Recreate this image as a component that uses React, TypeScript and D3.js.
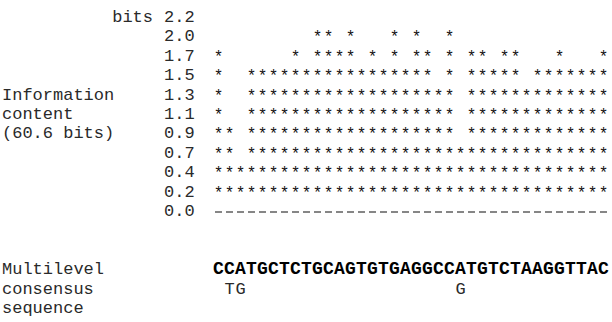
import { useEffect, useRef } from 'react';
import * as d3 from 'd3';

// consensus base at each of the 36 positions
const consensus = 'CCATGCTCTGCAGTGTGAGGCCATGTCTAAGGTTAC'.split('');
// number of asterisk rows stacked at each position (row 1 = 0.2 bits)
const starLevels = [8, 4, 2, 7, 7, 7, 7, 8, 7, 9, 9, 8, 9, 7, 8, 7, 9, 7, 9, 8, 6, 9, 3, 8, 8, 7, 8, 8, 6, 7, 7, 8, 7, 7, 7, 8];
// second-level bases written under the consensus
const secondPositions = [1, 2, 22];
const secondBases = ['T', 'G', 'G'];
// y axis labels, bottom to top
const tickLabels = ['0.0', '0.2', '0.4', '0.7', '0.9', '1.1', '1.3', '1.5', '1.7', '2.0', '2.2'];
const axisTitle = ['Information', 'content', '(60.6 bits)'];
const seqTitle = ['Multilevel', 'consensus', 'sequence'];

export default function App() {
  const svgRef = useRef<SVGSVGElement>(null);

  useEffect(() => {
    const svg = d3.select(svgRef.current);
    svg.selectAll('*').remove();

    const font = '"Liberation Mono", "Courier New", monospace';
    const fs = 17;
    const lineH = 19.4;
    const top = 17;

    const x = d3.scaleBand<number>()
      .domain(d3.range(consensus.length))
      .range([213, 609]);

    const y = d3.scalePoint<string>()
      .domain(tickLabels)
      .range([top + 10 * lineH, top]);

    const lineY = (n: number) => top + n * lineH;
    const base = 5; // shift from row centre to text baseline
    const cx = (i: number) => x(i)! + x.bandwidth() / 2;

    const g = svg.append('g')
      .style('font-family', font)
      .style('font-size', fs + 'px')
      .attr('fill', '#2a2a2a');

    // axis tick labels
    g.selectAll('.tick-label')
      .data(tickLabels)
      .enter()
      .append('text')
      .attr('class', 'tick-label')
      .attr('x', 164)
      .attr('y', d => y(d)! + base)
      .text(d => d);

    g.append('text')
      .attr('x', 153)
      .attr('y', y('2.2')! + base)
      .attr('text-anchor', 'end')
      .text('bits');

    // axis title on rows 1.3 .. 0.9
    g.selectAll('.axis-title')
      .data(axisTitle)
      .enter()
      .append('text')
      .attr('x', 2)
      .attr('y', (d, i) => y(tickLabels[6 - i])! + base)
      .text(d => d);

    // asterisk columns
    const cells = consensus.flatMap((_, i) =>
      d3.range(1, starLevels[i] + 1).map(k => ({ i, row: tickLabels[k] })));

    g.selectAll('.star')
      .data(cells)
      .enter()
      .append('text')
      .attr('class', 'star')
      .attr('x', d => cx(d.i))
      .attr('y', d => y(d.row)! + base + 1)
      .attr('text-anchor', 'middle')
      .style('font-size', '16px')
      .attr('fill', '#111')
      .text('*');

    // baseline dashes
    g.selectAll('.dash')
      .data(consensus)
      .enter()
      .append('line')
      .attr('x1', (d, i) => cx(i) - 3.5)
      .attr('x2', (d, i) => cx(i) + 3.5)
      .attr('y1', y('0.0')! + 1)
      .attr('y2', y('0.0')! + 1)
      .attr('stroke', '#444')
      .attr('stroke-width', 1.3);

    // sequence titles
    g.selectAll('.seq-title')
      .data(seqTitle)
      .enter()
      .append('text')
      .attr('x', 2)
      .attr('y', (d, i) => lineY(13 + i) + base)
      .text(d => d);

    // consensus bases (bold)
    g.selectAll('.cons')
      .data(consensus)
      .enter()
      .append('text')
      .attr('x', (d, i) => cx(i))
      .attr('y', lineY(13) + base)
      .attr('text-anchor', 'middle')
      .style('font-weight', 'bold')
      .style('font-size', '18px')
      .attr('fill', '#000')
      .text(d => d);

    g.selectAll('.second')
      .data(secondPositions)
      .enter()
      .append('text')
      .attr('x', d => cx(d))
      .attr('y', lineY(14) + base)
      .attr('text-anchor', 'middle')
      .text((d, i) => secondBases[i]);
  }, []);

  return (
    <svg
      ref={svgRef}
      width={612}
      height={322}
      style={{ position: 'absolute', left: 0, top: 0, background: '#fff' }}
    />
  );
}
